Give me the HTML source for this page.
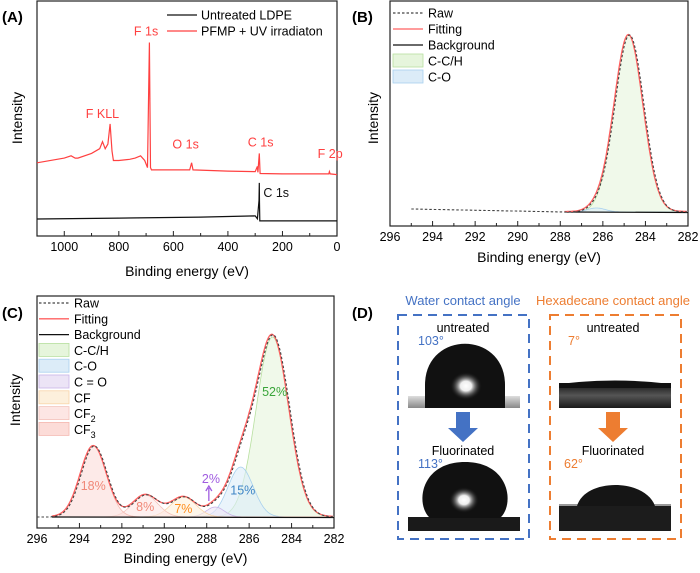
<!DOCTYPE html>
<html><head><meta charset="utf-8">
<style>
body{margin:0;background:#fff;}
svg{display:block;font-family:"Liberation Sans",Arial,sans-serif;}
</style></head>
<body>
<svg id="fig" width="700" height="573" viewBox="0 0 700 573">
<defs>
 <radialGradient id="glow" cx="0.5" cy="0.5" r="0.5">
  <stop offset="0" stop-color="#fff"/><stop offset="0.35" stop-color="#eee"/><stop offset="1" stop-color="#111" stop-opacity="0"/>
 </radialGradient>
 <linearGradient id="band" x1="0" y1="0" x2="0" y2="1">
  <stop offset="0" stop-color="#ddd"/><stop offset="1" stop-color="#888"/>
 </linearGradient>
 <linearGradient id="hexsub" x1="0" y1="0" x2="0" y2="1">
  <stop offset="0" stop-color="#111"/><stop offset="0.5" stop-color="#555"/><stop offset="1" stop-color="#1a1a1a"/>
 </linearGradient>
</defs>
<g id="pA"></g>
<g id="pB"></g>
<g id="pC"></g>
<g id="pD">
 <text x="352" y="318" font-size="15" font-weight="bold">(D)</text>
 <text x="463" y="305" font-size="13" fill="#4472c4" text-anchor="middle">Water contact angle</text>
 <text x="613" y="305" font-size="13" fill="#ed7d31" text-anchor="middle">Hexadecane contact angle</text>
 <rect x="398" y="315" width="131" height="224" fill="none" stroke="#4472c4" stroke-width="2" stroke-dasharray="9,6"/>
 <rect x="550" y="315" width="131" height="224" fill="none" stroke="#ed7d31" stroke-width="2" stroke-dasharray="9,6"/>
 <text x="463" y="332" font-size="12.5" text-anchor="middle">untreated</text>
 <text x="418" y="345" font-size="12.5" fill="#4472c4">103°</text>
 <g>
  <rect x="408" y="396" width="112" height="12" fill="url(#band)"/>
  <path d="M425,408 L425,385 C425,330 505,330 505,385 L505,408 Z" fill="#111"/>
  <ellipse cx="466" cy="386" rx="16" ry="14" fill="url(#glow)"/>
 </g>
 <path d="M456,412 h14 v16 h8 l-15,14 l-15,-14 h8 z" fill="#4472c4"/>
 <text x="463" y="455" font-size="12.5" text-anchor="middle">Fluorinated</text>
 <text x="418" y="468" font-size="12.5" fill="#4472c4">113°</text>
 <g>
  <rect x="408" y="517" width="112" height="14" fill="#1a1a1a"/>
  <path d="M430,518 C415,505 420,462 465,462 C510,462 515,505 500,518 Z" fill="#111"/>
  <ellipse cx="464" cy="500" rx="15" ry="13" fill="url(#glow)"/>
 </g>
 <text x="613" y="332" font-size="12.5" text-anchor="middle">untreated</text>
 <text x="568" y="345" font-size="12.5" fill="#ed7d31">7°</text>
 <g>
  <rect x="559" y="383" width="112" height="25" fill="url(#hexsub)"/>
  <path d="M559,384 Q615,377 671,384 L671,388 L559,388 Z" fill="#111"/>
 </g>
 <path d="M606,412 h14 v16 h8 l-15,14 l-15,-14 h8 z" fill="#ed7d31"/>
 <text x="613" y="455" font-size="12.5" text-anchor="middle">Fluorinated</text>
 <text x="564" y="468" font-size="12.5" fill="#ed7d31">62°</text>
 <g>
  <rect x="559" y="504" width="112" height="27" fill="#1c1c1c"/>
  <rect x="559" y="504" width="112" height="2" fill="#999"/>
  <path d="M577,506 C585,478 645,478 655,506 Z" fill="#151515"/>
 </g>
</g>
</svg>
<script>
// ---------- Panel A data ----------
const surveyRedEnergy = [1100,1000,975,960,950,900,870,860,850,840,832,825,820,800,760,740,720,705,695,688,684,680,600,540,533,528,400,300,292,290,285,282,200,100,30,28,25,0];
const surveyRedIntensity = [31,33,34,33,33,35,37,40,37,39,47.5,36,32,32,32.5,33,34,32,29,82,29,28,28,28,31,28,27.5,27.3,29.5,27,35,26.5,26.3,26.3,26.3,27.3,26.3,26];
const surveyBlackEnergy = [1100,800,500,300,292,286,285,284,283,0];
const surveyBlackIntensity = [7.2,7.6,8,8.5,7.3,15,22.5,14,6.4,6.4];
const surveyTicks = [1000,800,600,400,200,0];
// ---------- Panel B data ----------
const bCenters = [284.8, 286.3];
const bHeights = [177, 4];
const bFwhm = [1.6, 1.0];
const bNames = ['C-C/H','C-O'];
const bRawStart = [295, 3];
// ---------- Panel C data ----------
const cNames = ['C-C/H','C-O','C = O','CF','CF2','CF3'];
const cCenters = [284.9, 286.4, 287.6, 289.1, 290.9, 293.35];
const cHeights = [180, 50, 10, 20, 22, 71];
const cFwhm = [1.8, 1.4, 1.0, 1.4, 1.4, 1.45];
const cPercents = ['52%','15%','2%','7%','8%','18%'];
const xpsTicks = [296,294,292,290,288,286,284,282];

const NS='http://www.w3.org/2000/svg';
function mk(parent,tag,attrs,text){const e=document.createElementNS(NS,tag);for(const k in attrs)e.setAttribute(k,attrs[k]);if(text!==undefined)e.textContent=text;parent.appendChild(e);return e;}
function lin(d0,d1,r0,r1){return v=>r0+(v-d0)/(d1-d0)*(r1-r0);}

function axes(g,x0,x1,y0,y1,sx,ticks,minorStep,dom,title,tx,ty,iy){
  const f=mk(g,'rect',{x:x0,y:y0,width:x1-x0,height:y1-y0,fill:'none',stroke:'#222','stroke-width':1.2});
  
  for(let v=dom[0];v>=dom[1];v-=minorStep){
    const x=sx(v);const major=ticks.includes(v);
    const t=mk(g,'line',{x1:x,x2:x,y1:y1,y2:y1-(major?5:3),stroke:'#222','stroke-width':1});
    
  }
  ticks.forEach(v=>{const t=mk(g,'text',{x:sx(v),y:y1+15,'font-size':12.5,'text-anchor':'middle'},String(v));
    });
  const xt=mk(g,'text',{x:tx,y:ty,'font-size':14,'text-anchor':'middle'},title);
  
  const yt=mk(g,'text',{x:iy[0],y:iy[1],'font-size':14,'text-anchor':'middle',transform:`rotate(-90 ${iy[0]} ${iy[1]})`},'Intensity');
  
}

// Panel A
(function(){
 const g=document.getElementById('pA');
 const sx=lin(1100,0,37,337), sy=lin(0,100,236,0);
 axes(g,37,337,1,236,sx,surveyTicks,100,[1100,0],'Binding energy (eV)',187,276,[22,118]);
 const pl=(E,I)=>E.map((e,i)=>sx(e).toFixed(1)+','+sy(I[i]).toFixed(1)).join(' ');
 const r=mk(g,'polyline',{points:pl(surveyRedEnergy,surveyRedIntensity),fill:'none',stroke:'#ff4040','stroke-width':1.2});
 
 const b=mk(g,'polyline',{points:pl(surveyBlackEnergy,surveyBlackIntensity),fill:'none',stroke:'#111','stroke-width':1.2});
 
 const labs=[['F KLL',860,50,'#ff4040','middle'],['F 1s',700,85,'#ff4040','middle'],['O 1s',555,37,'#ff4040','middle'],['C 1s',280,38,'#ff4040','middle'],['F 2p',25,33,'#ff4040','middle'],['C 1s',270,16.5,'#111','start']];
 labs.forEach(l=>{const t=mk(g,'text',{x:sx(l[1]),y:sy(l[2]),'font-size':12.5,fill:l[3],'text-anchor':l[4]},l[0]);
  });
 const pa=mk(g,'text',{x:2,y:22,'font-size':15,'font-weight':'bold'},'(A)');
 [['Untreated LDPE','#111',15],['PFMP + UV irradiaton','#ff4040',31]].forEach(L=>{
  const l=mk(g,'line',{x1:167,x2:197,y1:L[2],y2:L[2],stroke:L[1],'stroke-width':1.3});
  const t=mk(g,'text',{x:201,y:L[2]+4.5,'font-size':12.5},L[0]);});
})();

function gauss(e,c,h,w){const s=w/2.3548;return h*Math.exp(-0.5*((e-c)/s)**2);}

const fills={'C-C/H':['#e6f5dc','#b8e0a0'],'C-O':['#dcecf8','#a8d0ee'],'C = O':['#ece4f6','#c8b4e8'],'CF':['#fdf0dc','#f8d4a8'],'CF2':['#fde6e4','#f4c4bc'],'CF3':['#fcdcd8','#f4b8b0']};

function xps(gid,x0,x1,y0,y1,base,C,H,W,N,rawFrom,fitFrom,leg,legX,legY0,rowH,titleY,iy,label,lx,ly){
 const g=document.getElementById(gid);
 const sx=lin(296,282,x0,x1), sy=v=>base-v;
 axes(g,x0,x1,y0,y1,sx,xpsTicks,1,[296,282],'Binding energy (eV)',(x0+x1)/2,titleY,iy);
 const E=[];for(let e=fitFrom;e>=282;e-=0.05)E.push(e);
 C.forEach((c,i)=>{
  const pts=E.map(e=>sx(e).toFixed(1)+','+sy(gauss(e,c,H[i],W[i])).toFixed(1));
  const p=mk(g,'polygon',{points:sx(fitFrom)+','+base+' '+pts.join(' ')+' '+sx(282)+','+base,fill:fills[N[i]][0],'fill-opacity':0.6,stroke:fills[N[i]][1],'stroke-width':0.8});
  
 });
 const bg=mk(g,'line',{x1:sx(fitFrom),x2:sx(282),y1:base,y2:base+0.5,stroke:'#111','stroke-width':1.2});
 
 const sum=e=>C.reduce((s,c,i)=>s+gauss(e,c,H[i],W[i]),0);
 const fp=E.map(e=>sx(e).toFixed(1)+','+sy(sum(e)+0.5).toFixed(1)).join(' ');
 const f=mk(g,'polyline',{points:fp,fill:'none',stroke:'#ff6060','stroke-width':1.3});
 
 const R=[];for(let e=rawFrom[0];e>=282;e-=0.05)R.push(e);
 const rp=R.map(e=>{let v=sum(e+0.05);if(e>fitFrom)v=rawFrom[1]*(e-fitFrom)/(rawFrom[0]-fitFrom);return sx(e).toFixed(1)+','+sy(v).toFixed(1);}).join(' ');
 const r=mk(g,'polyline',{points:rp,fill:'none',stroke:'#444','stroke-width':1.1,'stroke-dasharray':'2.5,2'});
 
 const pl=mk(g,'text',{x:lx,y:ly,'font-size':15,'font-weight':'bold'},label);
 leg.forEach((L,i)=>{const y=legY0+i*rowH;
  if(L[1]==='line'){const l=mk(g,'line',{x1:legX,x2:legX+30,y1:y,y2:y,stroke:L[2],'stroke-width':1.3,'stroke-dasharray':L[3]||''});}
  else{const b=mk(g,'rect',{x:legX,y:y-7,width:30,height:13,fill:fills[L[0]][0],stroke:fills[L[0]][1],'stroke-width':0.8});}
  const t=mk(g,'text',{x:legX+35,y:y+4.5,'font-size':12.5});
  if(/^CF\d$/.test(L[0])){t.textContent='CF';const s=mk(t,'tspan',{'font-size':9,dy:4},L[0].slice(2));}else t.textContent=L[0];
  });
 return {g,sx,sy};
}

xps('pB',390,688,1,226,212,bCenters,bHeights,bFwhm,bNames,bRawStart,287.8,
 [['Raw','line','#444','2.5,2'],['Fitting','line','#ff6060'],['Background','line','#111'],['C-C/H','box'],['C-O','box']],
 393,13,16,262,[378,118],'(B)',352,22);

const pc=xps('pC',37,334,296,528,517,cCenters,cHeights,cFwhm,cNames,[296,0],295.3,
 [['Raw','line','#444','2.5,2'],['Fitting','line','#ff6060'],['Background','line','#111'],['C-C/H','box'],['C-O','box'],['C = O','box'],['CF','box'],['CF2','box'],['CF3','box']],
 39,303,15.8,563,[20,400],'(C)',2,318);
(function(){
 const cols=['#3aa53a','#3d85c6','#a05ce0','#ff8c1a','#f08878','#f08878'];
 const offs=[[-0.1,0.7],[-0.1,0.55],[0.2,2.0],[0,0.45],[0,0.5],[0,0.45]];
 cPercents.forEach((p,i)=>{const x=pc.sx(cCenters[i]+offs[i][0]);const y=517-cHeights[i]*offs[i][1]+(i===2?-14:5);
  const t=mk(pc.g,'text',{x:x,y:y,'font-size':12.5,fill:cols[i],'text-anchor':'middle'},p);
  });
 const x=pc.sx(287.9);
 const a=mk(pc.g,'path',{d:`M${x},501 L${x},488 M${x-3},491 L${x},486 L${x+3},491`,stroke:'#a05ce0','stroke-width':1.3,fill:'none'});
 
})();
</script>
</body></html>
